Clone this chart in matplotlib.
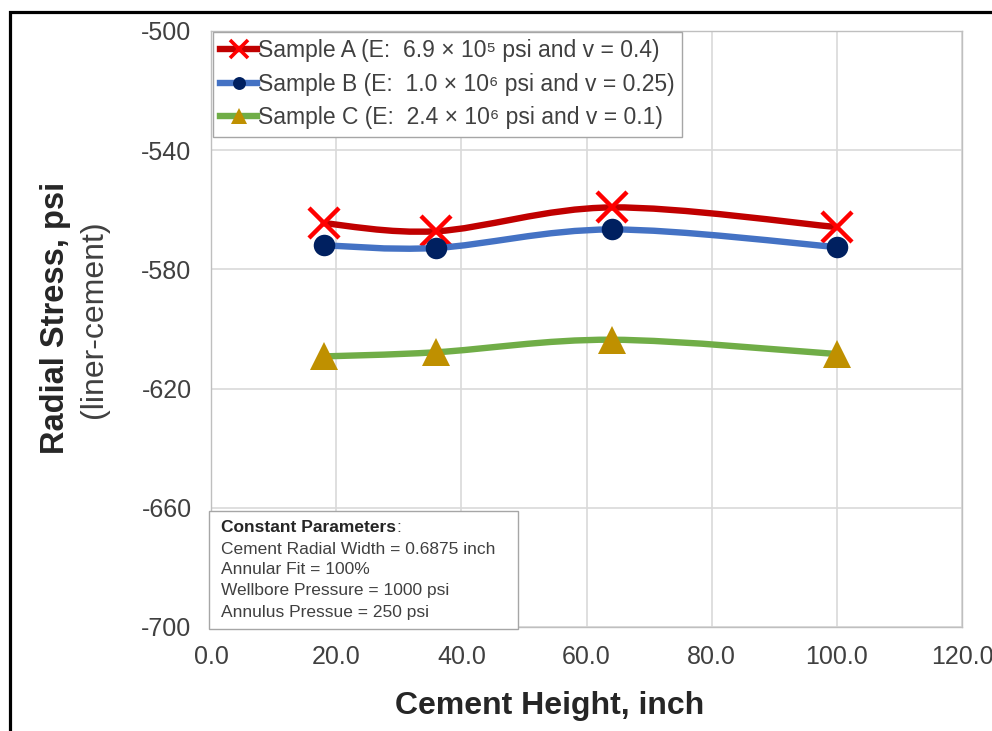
import numpy as np
import matplotlib
matplotlib.use("Agg")
import matplotlib.pyplot as plt
from matplotlib.path import Path
from matplotlib.patches import PathPatch, Rectangle
from matplotlib.lines import Line2D
from matplotlib.text import Annotation

plt.rcParams['font.family'] = ['Liberation Sans', 'DejaVu Sans']

# ---- data ----
heights = [18, 36, 64, 100]
sample_a = [-564.5, -567.2, -559.2, -565.8]
sample_b = [-571.9, -572.8, -566.6, -572.5]
sample_c = [-609.2, -607.8, -603.6, -608.4]

labels = [
    "Sample A (E:  6.9 \u00d7 10\u2075 psi and v = 0.4)",
    "Sample B (E:  1.0 \u00d7 10\u2076 psi and v = 0.25)",
    "Sample C (E:  2.4 \u00d7 10\u2076 psi and v = 0.1)",
]
x_ticks = [0, 20, 40, 60, 80, 100, 120]
y_ticks = [-700, -660, -620, -580, -540, -500]
notes_title = "Constant Parameters"
notes = [
    "Cement Radial Width = 0.6875 inch",
    "Annular Fit = 100%",
    "Wellbore Pressure = 1000 psi",
    "Annulus Pressue = 250 psi",
]

TXT = '#404040'
W, H = 992, 731


def smooth_path(xs, ys):
    """Bezier spline through the points (Catmull-Rom style control points)."""
    pts = np.column_stack([xs, ys]).astype(float)
    n = len(pts)
    verts = [pts[0]]
    codes = [Path.MOVETO]
    for i in range(n - 1):
        p0 = pts[i - 1] if i > 0 else pts[i]
        p1, p2 = pts[i], pts[i + 1]
        p3 = pts[i + 2] if i + 2 < n else pts[i + 1]
        verts += [p1 + (p2 - p0) / 6.0, p2 - (p3 - p1) / 6.0, p2]
        codes += [Path.CURVE4] * 3
    return Path(verts, codes)


def fx(px):
    return px / W


def fy(py):
    return 1 - py / H


fig = plt.figure(figsize=(W / 100, H / 100), dpi=100)
ax = fig.add_axes([fx(211), fy(627), (962 - 211) / W, (627 - 31) / H])

ax.set_xlim(0, 120)
ax.set_ylim(-700, -500)
ax.set_xticks(x_ticks)
ax.set_xticklabels([f"{v:.1f}" for v in x_ticks])
ax.set_yticks(y_ticks)
ax.set_yticklabels([f"{v:d}" for v in y_ticks])
ax.tick_params(length=0, labelsize=18, labelcolor=TXT)
ax.tick_params(axis='x', pad=13)
ax.tick_params(axis='y', pad=14)
ax.grid(True, color='#d9d9d9', lw=1.2)
ax.set_axisbelow(True)
for s in ax.spines.values():
    s.set_color('#bfbfbf')
    s.set_linewidth(1.0)

series = [
    (sample_a, '#C00000', dict(marker='x', ms=22, mew=3.2, mec='#FF0000', mfc='#FF0000')),
    (sample_b, '#4472C4', dict(marker='o', ms=15.5, mew=0, mfc='#002060', mec='#002060')),
    (sample_c, '#70AD47', dict(marker='^', ms=20, mew=0, mfc='#BF9000', mec='#BF9000')),
]
handles = []
for k, (vals, lc, mk) in enumerate(series):
    z = 3 + 2 * k
    ax.add_patch(PathPatch(smooth_path(heights, vals), fill=False, ec=lc, lw=4.6,
                           capstyle='round', joinstyle='round', zorder=z))
    ax.plot(heights, vals, ls='none', zorder=z + 1, **mk)
    hmk = dict(mk)
    hmk['ms'] = mk['ms'] * 0.6
    if mk['marker'] == 'x':
        hmk['mew'] = 2.6
    handles.append(Line2D([], [], color=lc, lw=4.6, **hmk))

leg = ax.legend(handles, labels, loc='upper left',
                bbox_to_anchor=(fx(213), fy(32)), bbox_transform=fig.transFigure,
                borderaxespad=0, fontsize=16.5, handlelength=1.6, handletextpad=0.05,
                labelspacing=0.46, borderpad=0.32, frameon=True, fancybox=False,
                framealpha=1, edgecolor='#a6a6a6')
leg.get_frame().set_linewidth(1.0)
for t in leg.get_texts():
    t.set_color(TXT)
leg.set_zorder(20)

# parameters box
fig.add_artist(Rectangle((fx(209), fy(629)), (518 - 209) / W, (629 - 511) / H,
                         transform=fig.transFigure, fill=True, fc='white',
                         ec='#a6a6a6', lw=1.0, zorder=20))
t0 = fig.text(fx(221), fy(527), notes_title, fontsize=12.5, fontweight='bold',
              color='#262626', va='center', ha='left', zorder=21)
fig.add_artist(Annotation(":", xy=(1, 0.5), xycoords=t0, xytext=(0, 0),
                          textcoords='offset points', fontsize=12.5, color=TXT,
                          va='center', ha='left', zorder=21, annotation_clip=False))
for i, line in enumerate(notes):
    fig.text(fx(221), fy(549 + 21 * i), line, fontsize=12.5, color=TXT,
             va='center', ha='left', zorder=21)

# axis titles
fig.text(fx(56), fy(318), "Radial Stress, psi", rotation=90, fontsize=23.5,
         fontweight='bold', color='#262626', ha='center', va='center')
fig.text(fx(94), fy(319), "(liner-cement)", rotation=90, fontsize=23,
         color=TXT, ha='center', va='center')
fig.text(fx(550), fy(706), "Cement Height, inch", fontsize=23,
         fontweight='bold', color='#262626', ha='center', va='center')

# outer chart border
fig.add_artist(Rectangle((fx(9.5), -0.2), 1.3, fy(12) + 0.2, transform=fig.transFigure,
                         fill=False, ec='black', lw=2.3, zorder=30))

fig.savefig("out.png", dpi=100, facecolor='white')
